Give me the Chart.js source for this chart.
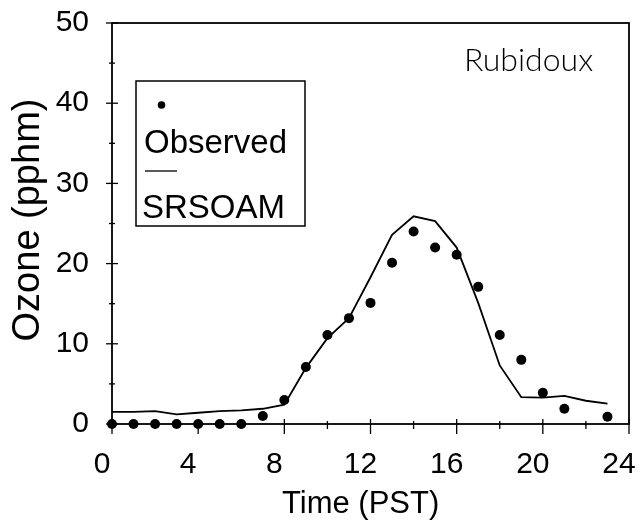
<!DOCTYPE html>
<html><head><meta charset="utf-8">
<script src="https://cdn.jsdelivr.net/npm/chart.js@4.4.0/dist/chart.umd.min.js"></script>
<style>html,body{margin:0;padding:0;background:#fff}canvas{display:block}</style>
</head><body>
<canvas id="c" width="642" height="530"></canvas>
<script>
// ---- data ----
const obsHours   = [0,1,2,3,4,5,6,7,8,9,10,11,12,13,14,15,16,17,18,19,20,21,23];
const observed   = [0,0,0,0,0,0,0,1.0,3.0,7.1,11.1,13.2,15.1,20.1,24.0,22.0,21.1,17.1,11.1,8.0,3.9,1.9,0.9];
const modelHours = [0,1,2,3,4,5,6,7,8,9,10,11,12,13,14,15,16,17,18,19,20,21,22,23];
const srsoam     = [1.5,1.5,1.6,1.2,1.4,1.6,1.7,1.9,2.4,7.0,10.7,13.2,18.3,23.6,25.9,25.3,22.0,15.1,7.3,3.35,3.3,3.5,2.9,2.55];
const xTickValues = [0,4,8,12,16,20,24];
const yTickValues = [0,10,20,30,40,50];
const seriesNames = ['Observed','SRSOAM'];
const xTitle = 'Time (PST)';
const yTitle = 'Ozone (pphm)';
const siteName = 'Rubidoux';

const FONT = "'Liberation Sans', Arial, sans-serif";

const decor = {
  id: 'decor',
  afterDraw(chart) {
    const ctx = chart.ctx, a = chart.chartArea;
    const xs = chart.scales.x, ys = chart.scales.y;
    ctx.save();
    ctx.strokeStyle = '#000'; ctx.fillStyle = '#000';
    // frame
    ctx.lineWidth = 1.8;
    ctx.strokeRect(a.left, a.top, a.right - a.left, a.bottom - a.top);
    // x ticks (major crossing, minor short)
    ctx.lineWidth = 1.3;
    for (let v = 0; v <= 24; v += 2) {
      const px = xs.getPixelForValue(v);
      const major = xTickValues.includes(v);
      ctx.beginPath();
      ctx.moveTo(px, a.bottom - (major ? 5 : 3));
      ctx.lineTo(px, a.bottom + (major ? 10 : 5));
      ctx.stroke();
    }
    for (let v = 0; v <= 50; v += 5) {
      const py = ys.getPixelForValue(v);
      const major = yTickValues.includes(v);
      ctx.beginPath();
      ctx.moveTo(a.left - (major ? 6 : 3), py);
      ctx.lineTo(a.left + (major ? 6 : 3), py);
      ctx.stroke();
    }
    // axis titles
    ctx.font = "31px " + FONT;
    ctx.textAlign = 'left'; ctx.textBaseline = 'alphabetic';
    ctx.fillText(xTitle, 282, 513);
    ctx.save();
    ctx.translate(29, 220);
    ctx.rotate(-Math.PI / 2);
    ctx.textAlign = 'center';
    ctx.textBaseline = 'middle';
    ctx.font = "38px " + FONT;
    ctx.fillText(yTitle, 0, 0);
    ctx.restore();
    // site label
    ctx.font = "300 32px Lato, 'DejaVu Sans', sans-serif";
    ctx.textAlign = 'left';
    ctx.fillText(siteName, 464, 71);
    // legend
    ctx.lineWidth = 1.5;
    ctx.strokeRect(136, 81, 169, 145);
    ctx.beginPath(); ctx.arc(161.5, 105, 3.8, 0, Math.PI * 2); ctx.fill();
    ctx.font = "33px " + FONT;
    ctx.fillText(seriesNames[0], 144, 153);
    ctx.lineWidth = 1.3;
    ctx.beginPath(); ctx.moveTo(145, 171); ctx.lineTo(177, 171); ctx.stroke();
    ctx.fillText(seriesNames[1], 142, 218);
    ctx.restore();
  }
};

new Chart(document.getElementById('c'), {
  type: 'scatter',
  data: {
    datasets: [
      {
        label: seriesNames[0],
        data: obsHours.map((h, i) => ({x: h, y: observed[i]})),
        showLine: false,
        pointRadius: 5,
        pointBorderWidth: 0,
        backgroundColor: '#000',
        borderColor: '#000',
        clip: false,
        order: 0
      },
      {
        label: seriesNames[1],
        data: modelHours.map((h, i) => ({x: h, y: srsoam[i]})),
        showLine: true,
        pointRadius: 0,
        borderWidth: 1.8,
        borderColor: '#000',
        backgroundColor: '#000',
        tension: 0,
        clip: false,
        order: 1
      }
    ]
  },
  options: {
    responsive: false,
    animation: false,
    events: [],
    layout: { autoPadding: false, padding: { top: 23, right: 13, left: 0, bottom: 0 } },
    plugins: { legend: { display: false }, tooltip: { enabled: false }, title: { display: false } },
    scales: {
      x: {
        type: 'linear', min: 0, max: 24,
        afterBuildTicks: s => { s.ticks = xTickValues.map(v => ({value: v})); },
        afterFit: s => { s.height = 106; s.paddingLeft = 0; s.paddingRight = 0; s.paddingTop = 0; s.paddingBottom = 0; },
        grid: { display: false, drawTicks: false },
        border: { display: false },
        ticks: { color: '#000', font: { size: 30, family: FONT }, padding: 23, labelOffset: -10, maxRotation: 0 }
      },
      y: {
        type: 'linear', min: 0, max: 50,
        afterBuildTicks: s => { s.ticks = yTickValues.map(v => ({value: v})); },
        afterFit: s => { s.width = 112; s.paddingLeft = 0; s.paddingRight = 0; s.paddingTop = 0; s.paddingBottom = 0; },
        grid: { display: false, drawTicks: false },
        border: { display: false },
        ticks: { color: '#000', font: { size: 30, family: FONT }, padding: 23 }
      }
    }
  },
  plugins: [decor]
});
</script>
</body></html>
